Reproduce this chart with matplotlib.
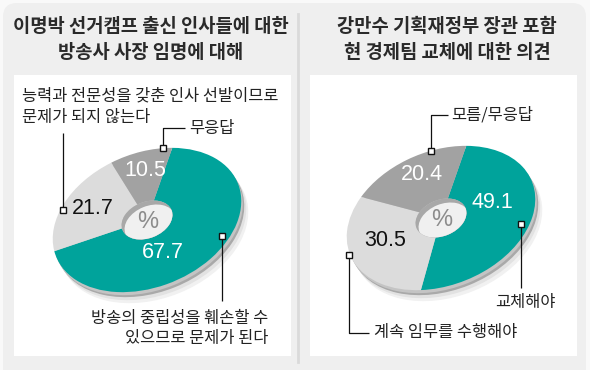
import matplotlib
matplotlib.use('Agg')
import matplotlib.pyplot as plt
from matplotlib.patches import Wedge, Ellipse, FancyBboxPatch, Rectangle
from matplotlib.transforms import Affine2D

# data
#
left_title = ['이명박 선거캠프 출신 인사들에 대한', '방송사 사장 임명에 대해']
left_values = [67.7, 21.7, 10.5]
left_names = [['방송의 중립성을 훼손할 수', '있으므로 문제가 된다'],
              ['능력과 전문성을 갖춘 인사 선발이므로', '문제가 되지 않는다'],
              ['무응답']]

right_title = ['강만수 기획재정부 장관 포함', '현 경제팀 교체에 대한 의견']
right_values = [49.1, 30.5, 20.4]
right_names = [['교체해야'], ['계속 임무를 수행해야'], ['모름/무응답']]

colors = ['#00a39b', '#dcdcdc', '#a2a2a2']
value_colors = ['white', '#111111', 'white']

KR = ['Noto Sans CJK KR', 'DejaVu Sans']
NUM = ['Liberation Sans', 'DejaVu Sans']

# figure in pixel units
#
fig = plt.figure(figsize=(5.9, 3.7), dpi=100, facecolor='#f9f9f9')
ax = fig.add_axes([0, 0, 1, 1])
ax.set_xlim(0, 590)
ax.set_ylim(370, 0)
ax.axis('off')

ax.add_patch(FancyBboxPatch((3, 3), 583, 380, boxstyle='round,pad=0,rounding_size=14',
                            fc='#efefef', ec='none'))
ax.plot([298, 298], [14, 362], color='#dadada', lw=2)
ax.add_patch(Rectangle((14, 75), 277, 281, fc='white', ec='none'))
ax.add_patch(Rectangle((310, 75), 267, 281, fc='white', ec='none'))


def donut(cx, cy, values, title, tx):
    a, b, tilt, start, hole = 98, 67, -22, -59, 0.27
    tr = Affine2D().scale(a, b).rotate_deg(tilt).translate(cx, cy)

    # shadow and side of the disc
    for dx, dy, c in [(7, 11, '#f1f1f1'), (5, 8, '#e2e2e2'), (3, 5, '#a9a9a9')]:
        ax.add_patch(Ellipse((0, 0), 2, 2, fc=c, ec='none',
                             transform=tr + Affine2D().translate(dx, dy) + ax.transData))
    ax.add_patch(Ellipse((0, 0), 2, 2, fc='#c4c4c4', ec='none',
                         transform=tr + Affine2D().translate(1.5, 3) + ax.transData))

    # top face
    total = sum(values)
    t0 = start
    for v, c in zip(values, colors):
        t1 = t0 + 360 * v / total
        ax.add_patch(Wedge((0, 0), 1, t0, t1, width=1 - hole, fc=c, ec='none',
                           transform=tr + ax.transData))
        t0 = t1

    # hole
    cut = Ellipse((0, 0), 2 * hole, 2 * hole, fc='#a8a8a8', ec='none',
                  transform=tr + ax.transData)
    ax.add_patch(cut)
    floor = Ellipse((0, 0), 2 * hole, 2 * hole, fc='#f0f0f0', ec='none',
                    transform=tr + Affine2D().translate(3, 4) + ax.transData)
    ax.add_patch(floor)
    floor.set_clip_path(cut)
    ax.text(cx + 1, cy + 2, '%', fontsize=17, color='#8c8c8c', family=NUM,
            ha='center', va='center')

    for i, line in enumerate(title):
        ax.text(tx, 27 + 26 * i, line, fontsize=13.5, weight='bold', color='#2a2a2a',
                family=KR, ha='center', va='center')


def label(lines, x, y, ha='left'):
    for i, line in enumerate(lines):
        ax.text(x, y + 21 * i, line, fontsize=11.8, color='#222222', family=KR,
                ha=ha, va='center')


def leader(points, mark):
    xs, ys = zip(*points)
    ax.plot(xs, ys, color='#111111', lw=0.9, solid_capstyle='butt')
    ax.plot(*mark, marker='s', ms=4.5, mfc='white', mec='#111111', mew=1)


# left chart
#
donut(147, 220, left_values, left_title, 151)
for v, c, (x, y) in zip(left_values, value_colors, [(163, 253), (93, 209), (145, 171)]):
    ax.text(x, y, f'{v}', fontsize=15.5, color=c, family=NUM, ha='center', va='center')

label(left_names[0], 268, 318, ha='right')
label(left_names[1], 22, 96)
label(left_names[2], 189, 128)
leader([(222, 236), (222, 301)], (222, 236))
leader([(63, 133), (63, 210)], (63, 210))
leader([(185, 128), (163, 128), (163, 148)], (163, 148))

# right chart
#
donut(441, 218, right_values, right_title, 447)
for v, c, (x, y) in zip(right_values, value_colors, [(492, 203), (385, 241), (422, 174)]):
    ax.text(x, y, f'{v}', fontsize=15.5, color=c, family=NUM, ha='center', va='center')

label(right_names[0], 495, 302)
label(right_names[1], 374, 333)
label(right_names[2], 451, 115)
leader([(521, 224), (521, 288)], (521, 224))
leader([(349, 255), (349, 333), (369, 333)], (349, 255))
leader([(448, 115), (431, 115), (431, 151)], (431, 151))

plt.savefig('out.png', dpi=100, facecolor=fig.get_facecolor())
